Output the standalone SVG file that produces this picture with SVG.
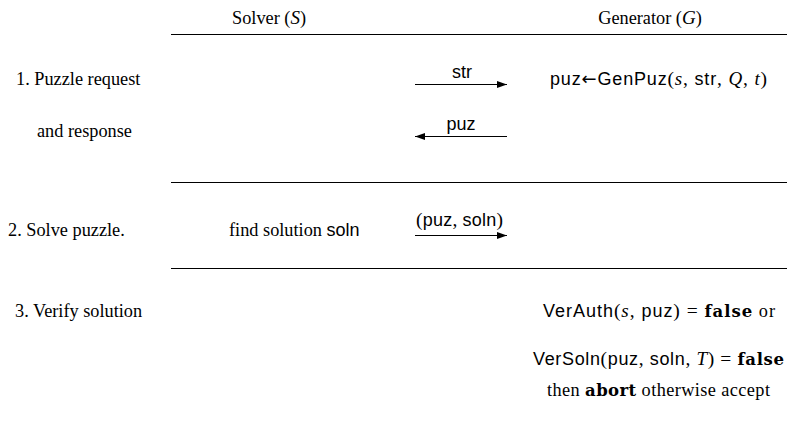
<svg xmlns="http://www.w3.org/2000/svg" width="787" height="441" viewBox="0 0 787 441">
<style>
text{fill:#000}
.rm{font-family:"Liberation Serif",serif;font-size:18.3px}
.sf{font-family:"Liberation Sans",sans-serif;font-size:18px}
.it{font-family:"Liberation Serif",serif;font-style:italic;font-size:19px}
.rmm{font-family:"Liberation Serif",serif;font-size:19.5px}
.ar{font-family:"DejaVu Sans",sans-serif;font-size:18px}
.bf{font-family:"DejaVu Serif",serif;font-weight:bold;font-size:16.5px}
.rule{stroke:#000;stroke-width:1.2}
.arr{stroke:#000;stroke-width:1.1;fill:none}
</style>
<defs>
<marker id="ah" markerUnits="userSpaceOnUse" markerWidth="11" markerHeight="8" refX="10" refY="4" orient="auto">
<path d="M0,0.5 L10,4 L0,7.5 Z" fill="#000"/>
</marker>
</defs>
<g id="rules">
<line class="rule" x1="171" y1="34.5" x2="787" y2="34.5"/>
<line class="rule" x1="171" y1="182.5" x2="787" y2="182.5"/>
<line class="rule" x1="171" y1="268.5" x2="787" y2="268.5"/>
</g>
<g id="solver-header"><text class="rm" x="269" y="24" text-anchor="middle">Solver (<tspan class="it">S</tspan>)</text></g>
<g id="generator-header"><text class="rm" x="650" y="24" text-anchor="middle">Generator (<tspan class="it">G</tspan>)</text></g>
<g id="step1"><text class="rm" x="16" y="85">1. Puzzle request</text><text class="rm" x="37" y="137">and response</text></g>
<g id="step2"><text class="rm" x="8" y="236">2. Solve puzzle.</text></g>
<g id="step3"><text class="rm" x="15" y="317">3. Verify solution</text></g>
<g id="solver-find"><text class="rm" x="229" y="236">find solution <tspan class="sf">soln</tspan></text></g>
<g id="gen-puz"><text class="sf" x="550" y="85" textLength="217">puz<tspan class="ar">←</tspan>GenPuz<tspan class="rmm">(</tspan><tspan class="it">s</tspan><tspan class="rmm">, </tspan>str<tspan class="rmm">, </tspan><tspan class="it">Q</tspan><tspan class="rmm">, </tspan><tspan class="it">t</tspan><tspan class="rmm">)</tspan></text></g>
<g id="verify">
<text class="sf" x="543" y="317" textLength="232">VerAuth<tspan class="rmm">(</tspan><tspan class="it">s</tspan><tspan class="rmm">, </tspan>puz<tspan class="rmm">) = </tspan><tspan class="bf">false</tspan><tspan class="rm"> or</tspan></text>
<text class="sf" x="533" y="365" textLength="251">VerSoln<tspan class="rmm">(</tspan>puz<tspan class="rmm">, </tspan>soln<tspan class="rmm">, </tspan><tspan class="it">T</tspan><tspan class="rmm">) = </tspan><tspan class="bf">false</tspan></text>
<text class="rm" x="547" y="396" textLength="223">then <tspan class="bf">abort</tspan> otherwise accept</text>
</g>
<g id="connectors">
<line class="arr" x1="415" y1="84.5" x2="507" y2="84.5" marker-end="url(#ah)"/>
<text class="sf" x="462" y="78" text-anchor="middle">str</text>
<line class="arr" x1="507" y1="136.5" x2="415" y2="136.5" marker-end="url(#ah)"/>
<text class="sf" x="461" y="130" text-anchor="middle">puz</text>
<line class="arr" x1="415" y1="235.5" x2="507" y2="235.5" marker-end="url(#ah)"/>
<text class="sf" x="416" y="226" textLength="87"><tspan class="rmm">(</tspan>puz<tspan class="rmm">, </tspan>soln<tspan class="rmm">)</tspan></text>
</g>
</svg>
